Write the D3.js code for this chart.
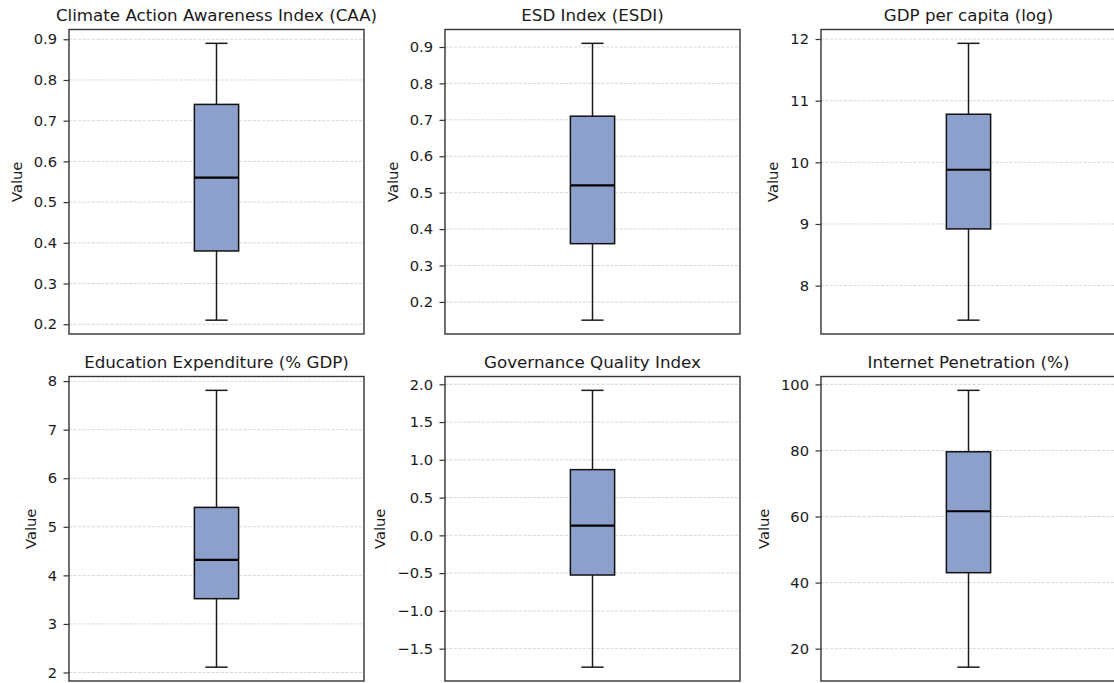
<!DOCTYPE html>
<html lang="en">
<head>
    <meta charset="UTF-8">
    <title>Box plots</title>
    <script src="https://d3js.org/d3.v7.min.js"></script>
    <style>
        body {margin: 0; background: white;}
        text {font-family: "DejaVu Sans", sans-serif; fill: #1a1a1a;}
    </style>
</head>
<body>
<script>
    const width = 1114;
    const height = 683;

    // one entry per panel
    const titles = ["Climate Action Awareness Index (CAA)", "ESD Index (ESDI)", "GDP per capita (log)",
                    "Education Expenditure (% GDP)", "Governance Quality Index", "Internet Penetration (%)"];
    const mins    = [0.21, 0.15, 7.44, 2.11, -1.745, 14.4];
    const q1s     = [0.38, 0.36, 8.92, 3.52, -0.525, 43.0];
    const medians = [0.56, 0.52, 9.88, 4.32, 0.13, 61.6];
    const q3s     = [0.74, 0.71, 10.78, 5.40, 0.87, 79.6];
    const maxs    = [0.89, 0.91, 11.93, 7.81, 1.92, 98.2];

    const tickValues = [
        [0.2, 0.3, 0.4, 0.5, 0.6, 0.7, 0.8, 0.9],
        [0.2, 0.3, 0.4, 0.5, 0.6, 0.7, 0.8, 0.9],
        [8, 9, 10, 11, 12],
        [2, 3, 4, 5, 6, 7, 8],
        [-1.5, -1.0, -0.5, 0.0, 0.5, 1.0, 1.5, 2.0],
        [20, 40, 60, 80, 100]
    ];
    const tickFormats = [".1f", ".1f", "d", "d", ".1f", "d"];

    // panel frames
    const colX = [69, 445, 821];
    const rowY = [29.5, 376.5];
    const panelW = 295;
    const panelH = 304.5;

    const svg = d3.select("body").append("svg")
            .attr("width", width).attr("height", height);

    svg.append("rect").attr("width", width).attr("height", height).style("fill", "white");

    titles.forEach(function(title, i) {
        const x0 = colX[i % 3];
        const y0 = rowY[Math.floor(i / 3)];

        const lo = mins[i], hi = maxs[i];
        const pad = (hi - lo) * 0.05;

        const y = d3.scaleLinear()
                .domain([lo - pad, hi + pad])
                .range([panelH, 0]);

        const x = d3.scaleLinear()
                .domain([0.5, 1.5])
                .range([0, panelW]);

        const g = svg.append("g")
                .attr("transform", `translate(${x0},${y0})`);

        // dashed grid
        g.selectAll("line.grid")
                .data(tickValues[i])
                .enter()
                .append("line")
                .attr("class", "grid")
                .attr("x1", 0).attr("x2", panelW)
                .attr("y1", d => y(d)).attr("y2", d => y(d))
                .style("stroke", "#d4d4d4")
                .style("stroke-width", 0.9)
                .style("stroke-dasharray", "3.2,1.4");

        // whiskers + caps
        const cx = x(1);
        const boxW = x(1.075) - x(0.925);
        const capW = boxW / 2;

        g.append("line")
                .attr("x1", cx).attr("x2", cx)
                .attr("y1", y(q3s[i])).attr("y2", y(maxs[i]))
                .style("stroke", "#1a1a1a").style("stroke-width", 1.5);
        g.append("line")
                .attr("x1", cx).attr("x2", cx)
                .attr("y1", y(q1s[i])).attr("y2", y(mins[i]))
                .style("stroke", "#1a1a1a").style("stroke-width", 1.5);

        [mins[i], maxs[i]].forEach(function(v) {
            g.append("line")
                    .attr("x1", cx - capW / 2).attr("x2", cx + capW / 2)
                    .attr("y1", y(v)).attr("y2", y(v))
                    .style("stroke", "#1a1a1a").style("stroke-width", 1.5);
        });

        // box
        g.append("rect")
                .attr("x", cx - boxW / 2)
                .attr("y", y(q3s[i]))
                .attr("width", boxW)
                .attr("height", y(q1s[i]) - y(q3s[i]))
                .style("fill", "#8da0cb")
                .style("stroke", "#111")
                .style("stroke-width", 1.5);

        // median
        g.append("line")
                .attr("x1", cx - boxW / 2).attr("x2", cx + boxW / 2)
                .attr("y1", y(medians[i])).attr("y2", y(medians[i]))
                .style("stroke", "black").style("stroke-width", 2.2);

        // y axis
        const axis = g.append("g")
                .call(d3.axisLeft(y)
                        .tickValues(tickValues[i])
                        .tickFormat(d3.format(tickFormats[i]))
                        .tickSize(5.5)
                        .tickPadding(6.5));
        axis.select(".domain").remove();
        axis.selectAll(".tick line").style("stroke", "#333").style("stroke-width", 1.2);
        axis.selectAll(".tick text")
                .style("font-size", "14.7px")
                .style("font-family", "DejaVu Sans, sans-serif")
                .style("fill", "#1a1a1a");

        // frame
        g.append("rect")
                .attr("width", panelW).attr("height", panelH)
                .style("fill", "none")
                .style("stroke", "#333")
                .style("stroke-width", 1.4);

        // label width decides where "Value" goes
        let maxW = 0;
        axis.selectAll(".tick text").each(function() {
            maxW = Math.max(maxW, this.getComputedTextLength());
        });

        g.append("text")
                .attr("transform", `translate(${-12 - maxW - 17},${panelH / 2}) rotate(-90)`)
                .attr("text-anchor", "middle")
                .attr("dy", "0.35em")
                .style("font-size", "14.7px")
                .text("Value");

        g.append("text")
                .attr("x", panelW / 2)
                .attr("y", -9)
                .attr("text-anchor", "middle")
                .style("font-size", "16.7px")
                .text(title);
    });
</script>

</body>
</html>
